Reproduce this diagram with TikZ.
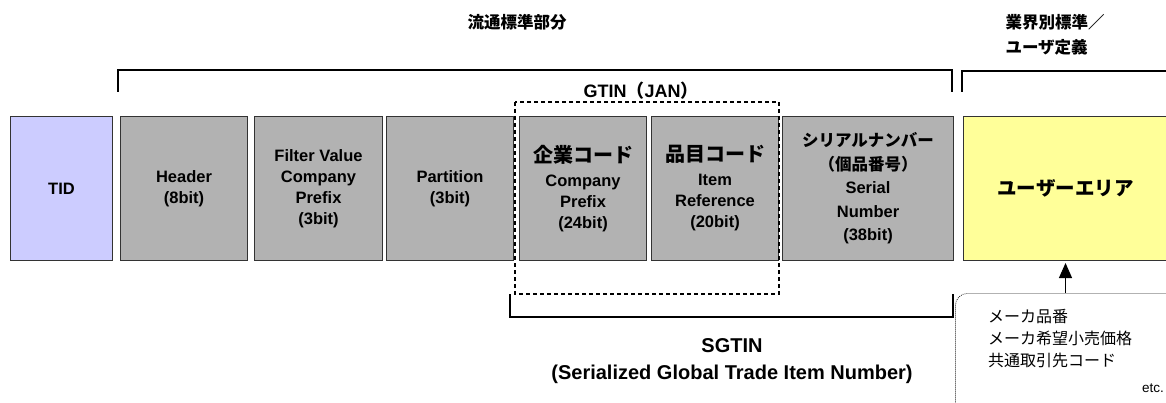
\documentclass[tikz,border=0pt]{standalone}
\usepackage{fontspec}
\setmainfont{Liberation Sans}
\newfontfamily\jp{Noto Sans CJK JP}
\usetikzlibrary{arrows.meta}
\definecolor{tidblue}{HTML}{CCCCFF}
\definecolor{fieldgray}{HTML}{B2B2B2}
\definecolor{useryellow}{HTML}{FFFF99}

\begin{document}
\begin{tikzpicture}[>=Stealth, x=1pt, y=-1pt,
  field/.style={draw=black!80, line width=1pt, fill=fieldgray, minimum height=144pt,
    inner sep=0pt, anchor=north west, align=center,
    font=\bfseries\fontsize{16.5}{21}\selectfont},
  brace/.style={line width=1.8pt},
  heading/.style={font=\jp\bfseries\fontsize{16.5}{25}\selectfont, align=left},
  memo/.style={draw=black!85, line width=0.8pt, dash pattern=on 0.9pt off 1.1pt,
    rounded corners=12pt, anchor=north west, minimum width=260pt, minimum height=140pt},
  pointer/.style={line width=1pt, -{Stealth[length=15pt, width=13pt, inset=0pt]}}]
  %================= Parameters =================
  \def\ytop{116}      % top of the field boxes
  \def\ybrace{70}     % upper brackets
  \def\ylow{317}      % SGTIN bracket
  \useasboundingbox (0,0) rectangle (1166,403);
  \clip (0,0) rectangle (1166,403);

  %================= Field boxes =================
  \node[field, fill=tidblue, minimum width=102pt] (tid) at (10,\ytop) {TID};
  \node[field, minimum width=127pt] (hdr) at (120,\ytop) {Header\\(8bit)};
  \node[field, minimum width=128pt] (filt) at (254,\ytop) {Filter Value\\Company\\Prefix\\(3bit)};
  \node[field, minimum width=127pt] (part) at (386,\ytop) {Partition\\(3bit)};
  \node[field, minimum width=127pt] (corp) at (519,\ytop)
    {{\jp\fontsize{20}{24}\selectfont 企業コード}\\[3pt]Company\\Prefix\\(24bit)};
  \node[field, minimum width=127pt] (item) at (651,\ytop)
    {{\jp\fontsize{20}{24}\selectfont 品目コード}\\[3pt]Item\\Reference\\(20bit)};
  \node[field, minimum width=171pt, font=\bfseries\fontsize{16.5}{23.5}\selectfont] (serial) at (782,\ytop)
    {{\jp シリアルナンバー}\\{\jp （個品番号）}\\Serial\\Number\\(38bit)};
  \node[field, fill=useryellow, minimum width=204pt] (user) at (963,\ytop)
    {\jp\fontsize{19.5}{24}\selectfont ユーザーエリア};

  %================= Titles and brackets (top) =================
  \node[heading] (std) at (517,22) {流通標準部分};
  \node[heading, anchor=west] (ind) at (1002,34.5) {業界別標準／\\ユーザ定義};
  \draw[brace] (118,92) -- (118,\ybrace) -- (952,\ybrace) -- (952,92);
  \draw[brace] (962,92) -- (962,\ybrace+1) -- (1175,\ybrace+1);
  \node[font=\bfseries\fontsize{18}{22}\selectfont] (gtin) at (641,91) {GTIN{\jp （}JAN{\jp ）}};
  % GTIN part: company code + item reference
  \draw[line width=1.4pt, dash pattern=on 4pt off 3pt] (515,102) rectangle (779,294);

  %================= SGTIN (bottom) =================
  \draw[brace] (510,294) -- (510,\ylow) -- (953,\ylow) -- (953,294);
  \node[font=\bfseries\fontsize{20}{27}\selectfont, align=center] (sgtin) at (732,361)
    {SGTIN\\(Serialized Global Trade Item Number)};

  %================= User area memo =================
  \node[memo] (note) at (955,293) {};
  \node[anchor=north west, align=left, inner sep=0pt, font=\jp\fontsize{16}{22}\selectfont] (items) at (988,309)
    {メーカ品番\\メーカ希望小売価格\\共通取引先コード};
  \node[anchor=east, inner sep=0pt, font=\fontsize{13.5}{16}\selectfont] (etc) at (1164,388) {etc.};
  \draw[pointer] (user.south |- note.north) -- ([yshift=-2pt]user.south);

\end{tikzpicture}
\end{document}
